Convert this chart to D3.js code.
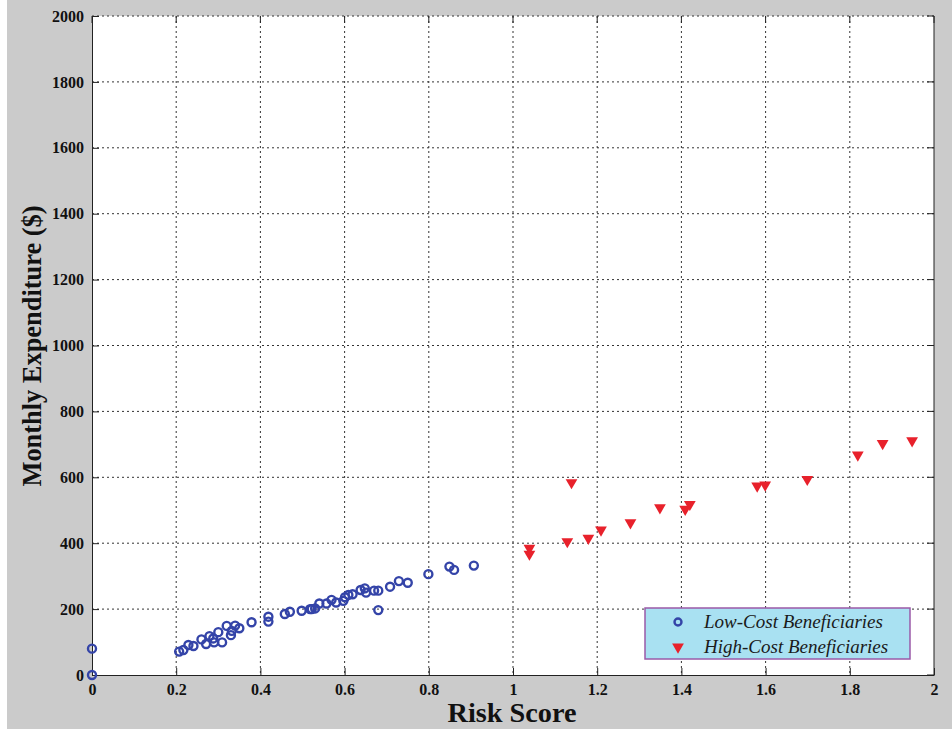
<!DOCTYPE html>
<html>
<head>
<meta charset="utf-8">
<title>Risk score vs monthly expenditure</title>
<script src="https://d3js.org/d3.v7.min.js"></script>
<style>
  body { margin: 0; background: #ffffff; }
  text { font-family: "Liberation Serif", "Times New Roman", serif; }
</style>
</head>
<body>
<svg id="chart"></svg>
<script>
// low-cost beneficiaries (circles)
var lowRisk = [0, 0, 0.207, 0.217, 0.229, 0.241, 0.26, 0.271, 0.279, 0.288, 0.29, 0.3, 0.309,
  0.32, 0.33, 0.332, 0.34, 0.35, 0.379, 0.419, 0.419, 0.458, 0.47, 0.498, 0.518, 0.522, 0.53,
  0.54, 0.557, 0.569, 0.58, 0.597, 0.601, 0.609, 0.619, 0.638, 0.648, 0.651, 0.67, 0.68, 0.68,
  0.708, 0.729, 0.75, 0.799, 0.849, 0.86, 0.907];
var lowCost = [80, 0, 71, 76, 91, 88, 108, 94, 118, 111, 99, 130, 99,
  149, 121, 134, 150, 142, 160, 177, 162, 185, 192, 195, 200, 200, 202,
  217, 217, 228, 220, 225, 236, 243, 245, 258, 263, 250, 256, 256, 197,
  268, 285, 280, 306, 329, 319, 332];

// high-cost beneficiaries (triangles)
var highRisk = [1.039, 1.039, 1.139, 1.129, 1.179, 1.209, 1.279, 1.349, 1.409, 1.42,
  1.58, 1.599, 1.699, 1.819, 1.878, 1.948];
var highCost = [385, 367, 584, 405, 415, 440, 462, 508, 503, 518,
  574, 577, 594, 668, 703, 711];

var xTicks = [0, 0.2, 0.4, 0.6, 0.8, 1, 1.2, 1.4, 1.6, 1.8, 2];
var yTicks = [0, 200, 400, 600, 800, 1000, 1200, 1400, 1600, 1800, 2000];
var legendLabels = ["Low-Cost Beneficiaries", "High-Cost Beneficiaries"];

var W = 952, H = 729;
var margin = {top: 16, right: 18, bottom: 54, left: 92};
var width = W - margin.left - margin.right;
var height = H - margin.top - margin.bottom;
var serif = "'Liberation Serif', 'Times New Roman', serif";

var svg = d3.select("#chart").attr("width", W).attr("height", H);

// grey figure background
svg.append("rect").attr("x", 7).attr("y", 0)
  .attr("width", W - 7).attr("height", H).attr("fill", "#cbcbcb");

var chart = svg.append("g")
  .attr("transform", "translate(" + margin.left + "," + margin.top + ")");

var x = d3.scaleLinear().domain([0, 2]).range([0, width]);
var y = d3.scaleLinear().domain([0, 2000]).range([height, 0]);

chart.append("rect").attr("width", width).attr("height", height).attr("fill", "#fff");

// dotted grid
chart.append("g").selectAll("line").data(xTicks.slice(1, -1)).enter().append("line")
  .attr("x1", function(d){ return x(d); }).attr("x2", function(d){ return x(d); })
  .attr("y1", 0).attr("y2", height)
  .attr("stroke", "#333").attr("stroke-dasharray", "2,3");
chart.append("g").selectAll("line").data(yTicks.slice(1)).enter().append("line")
  .attr("x1", 0).attr("x2", width)
  .attr("y1", function(d){ return y(d); }).attr("y2", function(d){ return y(d); })
  .attr("stroke", "#333").attr("stroke-dasharray", "2,3");

// axes (ticks inside, like matlab)
var xAxis = d3.axisBottom(x).tickValues(xTicks).tickSizeInner(-7).tickSizeOuter(0)
  .tickPadding(9).tickFormat(d3.format("~g"));
var yAxis = d3.axisLeft(y).tickValues(yTicks).tickSizeInner(-7).tickSizeOuter(0)
  .tickPadding(8).tickFormat(d3.format("d"));

function styleAxis(g) {
  g.attr("font-family", serif).attr("font-size", 16).attr("font-weight", "bold");
  g.select(".domain").attr("stroke", "#222");
  g.selectAll(".tick line").attr("stroke", "#222");
  g.selectAll(".tick text").attr("fill", "#111");
}
chart.append("g").attr("transform", "translate(0," + height + ")").call(xAxis).call(styleAxis);
chart.append("g").call(yAxis).call(styleAxis);

// right & top ticks
chart.append("line").attr("x1", width).attr("x2", width).attr("y1", 0).attr("y2", height)
  .attr("stroke", "#222");
chart.append("g").selectAll("line").data(yTicks).enter().append("line")
  .attr("x1", width - 7).attr("x2", width)
  .attr("y1", function(d){ return y(d); }).attr("y2", function(d){ return y(d); })
  .attr("stroke", "#222");
chart.append("g").selectAll("line").data(xTicks).enter().append("line")
  .attr("x1", function(d){ return x(d); }).attr("x2", function(d){ return x(d); })
  .attr("y1", 0).attr("y2", 7)
  .attr("stroke", "#222");

// low-cost circles
chart.append("g").selectAll("circle").data(lowRisk).enter().append("circle")
  .attr("cx", function(d){ return x(d); })
  .attr("cy", function(d, i){ return y(lowCost[i]); })
  .attr("r", 4)
  .attr("fill", "none").attr("stroke", "#3444a8").attr("stroke-width", 2.4);

// high-cost triangles
var tri = d3.symbol().type(d3.symbolTriangle).size(60);
chart.append("g").selectAll("path").data(highRisk).enter().append("path")
  .attr("d", tri)
  .attr("transform", function(d, i){
    return "translate(" + x(d) + "," + y(highCost[i]) + ") rotate(180)";
  })
  .attr("fill", "#e8212b");

// legend
var lg = chart.append("g").attr("transform", "translate(" + (645 - margin.left) + "," + (608 - margin.top) + ")");
lg.append("rect").attr("width", 265).attr("height", 51)
  .attr("fill", "#a9e1f2").attr("stroke", "#9a5aa8").attr("stroke-width", 1.5);
lg.append("circle").attr("cx", 33).attr("cy", 14).attr("r", 3.5)
  .attr("fill", "none").attr("stroke", "#3444a8").attr("stroke-width", 2.4);
lg.append("path").attr("d", tri)
  .attr("transform", "translate(33,39) rotate(180)").attr("fill", "#e8212b");
lg.selectAll("text.lab").data(legendLabels).enter().append("text")
  .attr("class", "lab")
  .attr("x", 59).attr("y", function(d, i){ return 20 + i * 25; })
  .attr("font-size", "19px").attr("font-style", "italic").attr("fill", "#1a1a1a")
  .text(function(d){ return d; });

// axis titles
svg.append("text")
  .attr("x", 512).attr("y", 722).attr("text-anchor", "middle")
  .attr("font-size", "27px").attr("font-weight", "bold").attr("fill", "#111")
  .attr("textLength", 129).attr("lengthAdjust", "spacingAndGlyphs")
  .text("Risk Score");
svg.append("text")
  .attr("transform", "translate(41,346) rotate(-90)").attr("text-anchor", "middle")
  .attr("font-size", "28px").attr("font-weight", "bold").attr("fill", "#111")
  .attr("textLength", 281).attr("lengthAdjust", "spacingAndGlyphs")
  .text("Monthly Expenditure ($)");
</script>
</body>
</html>
